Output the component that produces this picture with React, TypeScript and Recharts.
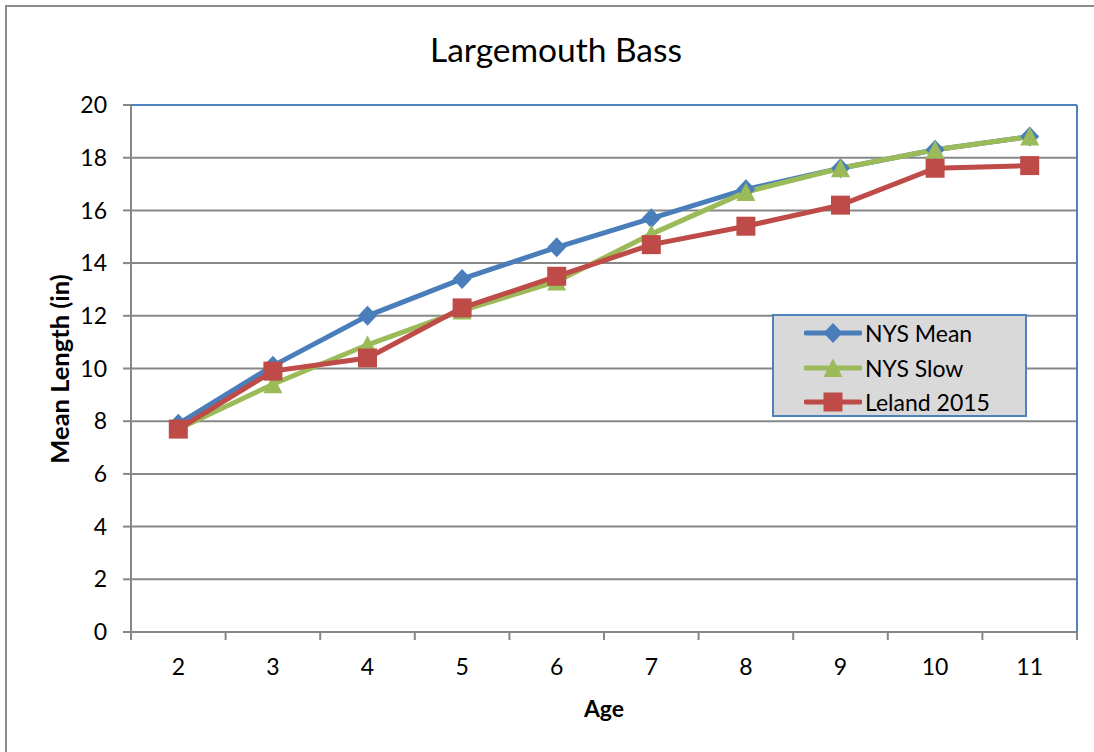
import React from 'react';
import {
  LineChart,
  Line,
  XAxis,
  YAxis,
  CartesianGrid,
  ReferenceLine,
  Legend,
} from 'recharts';

// ---- data ----
const ages = [2, 3, 4, 5, 6, 7, 8, 9, 10, 11];
const nysMean = [7.9, 10.1, 12.0, 13.4, 14.6, 15.7, 16.8, 17.6, 18.3, 18.8];
const nysSlow = [7.7, 9.4, 10.9, 12.2, 13.3, 15.1, 16.7, 17.6, 18.3, 18.8];
const leland2015 = [7.7, 9.9, 10.4, 12.3, 13.5, 14.7, 15.4, 16.2, 17.6, 17.7];
const yTicks = [0, 2, 4, 6, 8, 10, 12, 14, 16, 18, 20];
const seriesNames = ['NYS Mean', 'NYS Slow', 'Leland 2015'];

const chartTitle = 'Largemouth Bass';
const xTitle = 'Age';
const yTitle = 'Mean Length (in)';

const data = ages.map((a, i) => ({
  age: a,
  mean: nysMean[i],
  slow: nysSlow[i],
  leland: leland2015[i],
}));

const boundaries = [...ages.map((a) => a - 0.5), ages[ages.length - 1] + 0.5];
const xTicks = [...boundaries, ...ages].sort((a, b) => a - b);

const BLUE = '#4A7EBB';
const GREEN = '#9BBB59';
const RED = '#BE4B48';
const GRID = '#878787';
const FRAME_BLUE = '#4F81BD';
const FONT = 'Lato, "Open Sans", sans-serif';

type Shape = 'diamond' | 'triangle' | 'square';

const markerPath = (shape: Shape, cx: number, cy: number) => {
  if (shape === 'diamond') {
    return `M${cx},${cy - 10} L${cx + 9.5},${cy} L${cx},${cy + 10} L${cx - 9.5},${cy} Z`;
  }
  if (shape === 'triangle') {
    return `M${cx},${cy - 9.5} L${cx + 9.5},${cy + 9} L${cx - 9.5},${cy + 9} Z`;
  }
  return `M${cx - 9.5},${cy - 9.5} L${cx + 9.5},${cy - 9.5} L${cx + 9.5},${cy + 9.5} L${cx - 9.5},${cy + 9.5} Z`;
};

const makeDot = (shape: Shape, color: string) => (props: any) => {
  const { cx, cy, index } = props;
  if (cx == null || cy == null) return <g key={`e-${shape}-${index}`} />;
  return <path key={`d-${shape}-${index}`} d={markerPath(shape, cx, cy)} fill={color} stroke="none" />;
};

const series = [
  { key: 'mean', name: seriesNames[0], color: BLUE, shape: 'diamond' as Shape },
  { key: 'slow', name: seriesNames[1], color: GREEN, shape: 'triangle' as Shape },
  { key: 'leland', name: seriesNames[2], color: RED, shape: 'square' as Shape },
];

const XTick = (props: any) => {
  const { x, y, payload } = props;
  const v = payload.value as number;
  if (Number.isInteger(v)) {
    return (
      <text x={x} y={y + 43} textAnchor="middle" fontSize={23} fill="#000" fontFamily={FONT}>
        {v}
      </text>
    );
  }
  return <line x1={x} y1={y} x2={x} y2={y + 8} stroke={GRID} strokeWidth={2} />;
};

const LegendContent = () => (
  <div
    style={{
      width: 255,
      height: 103,
      boxSizing: 'border-box',
      background: '#D9D9D9',
      border: `2px solid ${FRAME_BLUE}`,
      fontFamily: FONT,
      fontSize: 23,
      color: '#000',
      position: 'relative',
    }}
  >
    {series.map((s, i) => (
      <div
        key={s.key}
        style={{
          position: 'absolute',
          left: 30,
          top: i * 34.5,
          height: 34,
          display: 'flex',
          alignItems: 'center',
        }}
      >
        <svg width={58} height={24} style={{ display: 'block' }}>
          <line x1={2} y1={12} x2={56} y2={12} stroke={s.color} strokeWidth={5} strokeLinecap="round" />
          <path d={markerPath(s.shape, 29, 12)} fill={s.color} />
        </svg>
        <span style={{ marginLeft: 3, whiteSpace: 'nowrap', lineHeight: '24px' }}>{s.name}</span>
      </div>
    ))}
  </div>
);

export default function App() {
  return (
    <div
      style={{
        position: 'absolute',
        left: 0,
        top: 0,
        width: 1094,
        height: 752,
        overflow: 'hidden',
        background: '#fff',
        fontFamily: FONT,
      }}
    >
      <div
        style={{
          position: 'absolute',
          left: 5,
          top: 5,
          width: 1200,
          height: 900,
          borderTop: '2px solid #8C8C8C',
          borderLeft: '2px solid #8C8C8C',
        }}
      />
      <div style={{ position: 'absolute', left: 0, top: 0 }}>
        <LineChart
          width={1094}
          height={752}
          data={data}
          margin={{ top: 105, right: 17, bottom: 80, left: 71 }}
        >
          <text x={556} y={62} textAnchor="middle" fontSize={33.5} fill="#000" fontFamily={FONT}>
            {chartTitle}
          </text>
          <text
            x={69}
            y={369}
            transform="rotate(-90, 69, 369)"
            textAnchor="middle"
            fontSize={25.5}
            fontWeight="bold"
            fill="#000"
            fontFamily={FONT}
          >
            {yTitle}
          </text>
          <text x={604} y={717} textAnchor="middle" fontSize={23} fontWeight="bold" fill="#000" fontFamily={FONT}>
            {xTitle}
          </text>
          <CartesianGrid vertical={false} stroke={GRID} strokeWidth={2} />
          <XAxis
            dataKey="age"
            type="number"
            domain={[boundaries[0], boundaries[boundaries.length - 1]]}
            ticks={xTicks}
            interval={0}
            tickLine={false}
            tickSize={0}
            tickMargin={0}
            tick={<XTick />}
            axisLine={{ stroke: GRID, strokeWidth: 2 }}
            height={40}
            allowDataOverflow
          />
          <YAxis
            domain={[0, 20]}
            ticks={yTicks}
            interval={0}
            width={60}
            tickSize={8}
            tickMargin={16}
            tickLine={{ stroke: GRID, strokeWidth: 2 }}
            axisLine={{ stroke: GRID, strokeWidth: 2 }}
            tick={{ fill: '#000', fontSize: 23, fontFamily: FONT }}
          />
          <ReferenceLine y={20} stroke={FRAME_BLUE} strokeWidth={2} />
          <ReferenceLine x={boundaries[boundaries.length - 1]} stroke={FRAME_BLUE} strokeWidth={2} />
          {series.map((s) => (
            <Line
              key={s.key}
              type="linear"
              dataKey={s.key}
              name={s.name}
              stroke={s.color}
              strokeWidth={5}
              dot={makeDot(s.shape, s.color)}
              activeDot={false}
              isAnimationActive={false}
            />
          ))}
          <Legend
            layout="vertical"
            align="center"
            verticalAlign="middle"
            content={<LegendContent />}
            wrapperStyle={{ left: 772, top: 314, width: 255, height: 103, right: 'auto', bottom: 'auto' }}
          />
        </LineChart>
      </div>
    </div>
  );
}
